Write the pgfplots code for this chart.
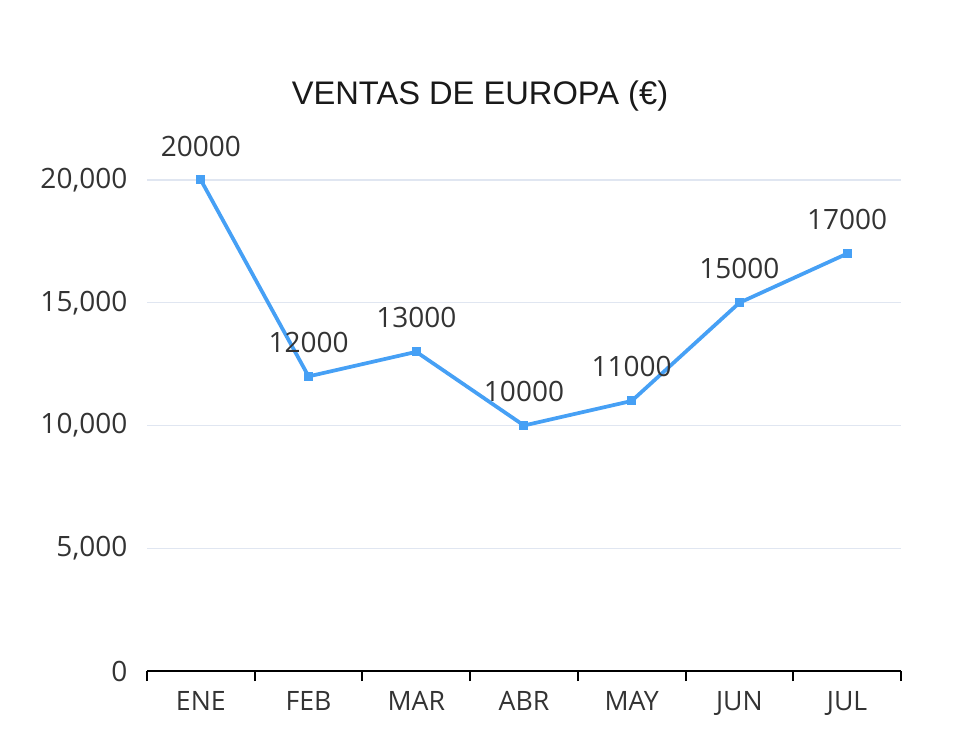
\documentclass[border=0pt]{standalone}
\usepackage{pgfplots}
\pgfplotsset{compat=1.18}
\usepackage{fontspec}
\setmainfont{Open Sans}
\newfontfamily\titlefont{Liberation Sans}
\definecolor{linec}{RGB}{70,160,245}
\definecolor{gridc}{RGB}{224,230,241}
\definecolor{txt}{RGB}{51,51,51}
\begin{document}
\begin{tikzpicture}
\path (-110.25pt,-61.5pt) rectangle (610.5pt,503.25pt);
\begin{axis}[
  at={(0pt,0pt)}, anchor=south west,
  scale only axis, width=565.5pt, height=368.25pt,
  xmin=-0.5, xmax=6.5, ymin=0, ymax=20000,
  clip=false,
  axis line style={draw=none},
  axis x line*=bottom,
  x axis line style={draw=black, line width=1.5pt},
  xtick={-0.5,0.5,...,6.5},
  x tick label as interval,
  xticklabels={ENE,FEB,MAR,ABR,MAY,JUN,JUL},
  tick align=outside,
  x tick style={black, line width=1.5pt},
  major tick length=7.5pt,
  xticklabel style={font=\fontsize{20}{24}\selectfont, text=txt, anchor=base, inner sep=0pt, yshift=-22pt},
  ytick={0,5000,10000,15000,20000},
  y tick style={draw=none},
  ymajorgrids,
  grid style={gridc, line width=1.1pt},
  yticklabel style={font=\fontsize{21}{24}\selectfont, text=txt, anchor=east, inner sep=0pt, xshift=-7pt},
  /pgf/number format/assume math mode=true,
  /pgf/number format/1000 sep={,},
  scaled y ticks=false,
  point meta=explicit symbolic,
  nodes near coords,
  nodes near coords style={font=\fontsize{21}{24}\selectfont, text=txt, anchor=center, inner sep=0pt, yshift=25.5pt},
]
\addplot[color=linec, line width=2.8pt, mark=square*, mark size=3pt, mark options={line width=0pt}]
coordinates {
(0,20000) [20000]
(1,12000) [12000]
(2,13000) [13000]
(3,10000) [10000]
(4,11000) [11000]
(5,15000) [15000]
(6,17000) [17000]
};
\end{axis}
\node[anchor=base, font=\titlefont\fontsize{24.5}{28}\selectfont, text=black!90] at (249.75pt,424.5pt) {VENTAS DE EUROPA (€)};
\end{tikzpicture}
\end{document}
